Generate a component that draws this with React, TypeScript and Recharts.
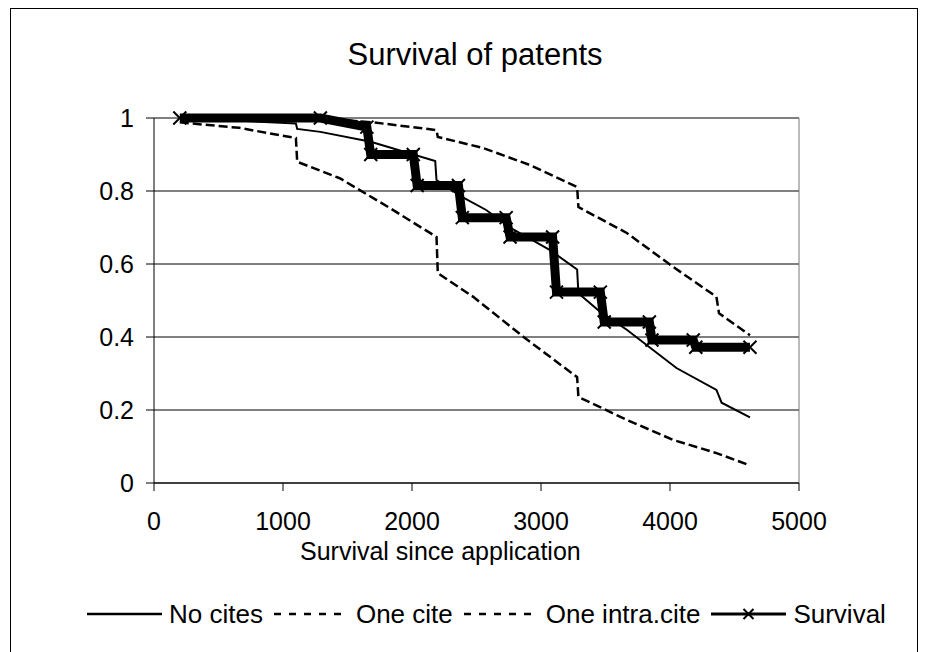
import { LineChart, Line, XAxis, YAxis, CartesianGrid, ReferenceLine } from "recharts"

const xTicks = [0, 1000, 2000, 3000, 4000, 5000]
const yTicks = [0, 0.2, 0.4, 0.6, 0.8, 1]

// values (days since application, share still alive)
const noCitesDays = [200, 1100, 1110, 1290, 1680, 2180, 2190, 2380, 2575, 2760, 3070, 3280, 3290, 3455, 3665, 4050, 4360, 4400, 4620]
const noCitesShare = [1.0, 0.985, 0.97, 0.962, 0.935, 0.882, 0.83, 0.785, 0.748, 0.7, 0.638, 0.585, 0.52, 0.47, 0.42, 0.315, 0.255, 0.22, 0.18]

const oneCiteDays = [200, 1300, 1700, 2190, 2200, 2550, 2915, 3280, 3290, 3665, 4025, 4360, 4380, 4620]
const oneCiteShare = [1.0, 0.999, 0.988, 0.967, 0.948, 0.918, 0.871, 0.811, 0.756, 0.685, 0.592, 0.51, 0.465, 0.405]

const intraCiteDays = [200, 660, 1100, 1110, 1440, 1830, 2190, 2200, 2475, 2865, 3280, 3290, 3665, 4025, 4360, 4620]
const intraCiteShare = [0.988, 0.973, 0.945, 0.88, 0.835, 0.753, 0.674, 0.575, 0.51, 0.4, 0.29, 0.236, 0.173, 0.118, 0.082, 0.048]

const survivalDays = [200, 1290, 1650, 1680, 2010, 2040, 2360, 2390, 2730, 2760, 3090, 3120, 3460, 3490, 3840, 3860, 4180, 4200, 4620]
const survivalShare = [1.0, 1.0, 0.975, 0.9, 0.9, 0.815, 0.815, 0.727, 0.727, 0.674, 0.674, 0.523, 0.523, 0.441, 0.441, 0.392, 0.392, 0.372, 0.372]

const toPoints = (xs: number[], ys: number[]) => xs.map((x, i) => ({ x, y: ys[i] }))

const noCites = toPoints(noCitesDays, noCitesShare)
const oneCite = toPoints(oneCiteDays, oneCiteShare)
const intraCite = toPoints(intraCiteDays, intraCiteShare)
const survival = toPoints(survivalDays, survivalShare)

const font = "Arial, 'Liberation Sans', sans-serif"

function XMark({ cx, cy, size = 6 }: { cx?: number; cy?: number; size?: number }) {
  if (cx == null || cy == null) return null
  return (
    <path
      d={`M${cx - size},${cy - size}L${cx + size},${cy + size}M${cx - size},${cy + size}L${cx + size},${cy - size}`}
      stroke="#000"
      strokeWidth={2}
      fill="none"
    />
  )
}

const legendItems = [
  { name: "No cites", dash: undefined as string | undefined, mark: false },
  { name: "One cite", dash: "7 8", mark: false },
  { name: "One intra.cite", dash: "7 8", mark: false },
  { name: "Survival", dash: undefined, mark: true },
]

export default function App() {
  return (
    <div
      style={{
        position: "relative",
        width: 906,
        height: 660,
        border: "1px solid #000",
        marginLeft: 2,
        background: "#fff",
        fontFamily: font,
        color: "#000",
      }}
    >
      <div style={{ position: "absolute", left: 0, width: 928, top: 30, fontSize: 31, lineHeight: 1, textAlign: "center" }}>
        Survival of patents
      </div>

      <div style={{ position: "absolute", left: 0, top: 0 }}>
        <LineChart width={906} height={560} margin={{ top: 109, right: 118, left: 0, bottom: 56 }}>
          <CartesianGrid vertical={false} stroke="#000" strokeWidth={1} />
          <XAxis
            type="number"
            dataKey="x"
            domain={[0, 5000]}
            ticks={xTicks}
            allowDataOverflow
            stroke="#000"
            tickSize={8}
            tickMargin={21}
            height={30}
            tick={{ fill: "#000", fontSize: 25, fontFamily: font }}
          />
          <YAxis
            type="number"
            domain={[0, 1]}
            ticks={yTicks}
            width={143}
            stroke="#000"
            tickSize={8}
            tickMargin={12}
            tick={{ fill: "#000", fontSize: 25, fontFamily: font }}
          />
          <ReferenceLine x={5000} stroke="#777" strokeWidth={1} />
          <Line data={noCites} dataKey="y" type="linear" stroke="#000" strokeWidth={2} dot={false} isAnimationActive={false} />
          <Line data={oneCite} dataKey="y" type="linear" stroke="#000" strokeWidth={2.5} strokeDasharray="9 4" dot={false} isAnimationActive={false} />
          <Line data={intraCite} dataKey="y" type="linear" stroke="#000" strokeWidth={2.5} strokeDasharray="9 4" dot={false} isAnimationActive={false} />
          <Line
            data={survival}
            dataKey="y"
            type="linear"
            stroke="#000"
            strokeWidth={9}
            dot={(p: any) => <XMark key={`m${p.index}`} cx={p.cx} cy={p.cy} size={6.5} />}
            isAnimationActive={false}
          />
        </LineChart>
      </div>

      <div style={{ position: "absolute", left: 289, top: 530, fontSize: 25, lineHeight: 1, whiteSpace: "nowrap" }}>
        Survival since application
      </div>

      <div style={{ position: "absolute", left: 76, top: 592, display: "flex", alignItems: "center", fontSize: 26, lineHeight: 1 }}>
        {legendItems.map((it) => (
          <div key={it.name} style={{ display: "flex", alignItems: "center", marginRight: 11 }}>
            <svg width={75} height={16}>
              <line x1={0} y1={8} x2={75} y2={8} stroke="#000" strokeWidth={it.mark ? 3 : 2.5} strokeDasharray={it.dash} />
              {it.mark && <XMark cx={37.5} cy={8} size={5} />}
            </svg>
            <span style={{ marginLeft: 7, whiteSpace: "nowrap" }}>{it.name}</span>
          </div>
        ))}
      </div>
    </div>
  )
}
